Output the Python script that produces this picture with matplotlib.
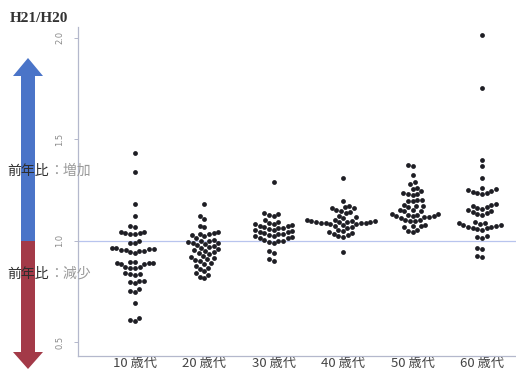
import numpy as np
import matplotlib
matplotlib.use("Agg")
import matplotlib.pyplot as plt
from matplotlib.patches import Polygon

plt.rcParams['font.family'] = ['Noto Sans CJK JP', 'DejaVu Sans']

categories = ["10 歳代", "20 歳代", "30 歳代", "40 歳代", "50 歳代", "60 歳代"]
yticks = [0.5, 1.0, 1.5, 2.0]
ytick_labels = ["0.5", "1.0", "1.5", "2.0"]

g10 = [1.43, 1.34, 1.18, 1.12, 1.07, 1.065, 1.04, 1.035, 1.035, 1.03, 1.04, 1.03,
       1.00, 0.99, 0.99, 0.965, 0.96, 0.955, 0.95, 0.945, 0.94, 0.965, 0.96, 0.955,
       0.95, 0.895, 0.89, 0.89, 0.885, 0.895, 0.89, 0.885, 0.87, 0.865, 0.87, 0.865,
       0.835, 0.83, 0.84, 0.835, 0.80, 0.79, 0.80, 0.795, 0.75, 0.745, 0.76, 0.69,
       0.61, 0.605, 0.62]
g20 = [1.18, 1.12, 1.105, 1.07, 1.065, 1.04, 1.035, 1.03, 1.03, 1.025, 1.02, 1.01,
       1.005, 1.0, 1.0, 0.995, 0.99, 0.99, 0.985, 0.98, 0.975, 0.97, 0.965, 0.96,
       0.955, 0.95, 0.945, 0.94, 0.935, 0.925, 0.92, 0.915, 0.91, 0.905, 0.90, 0.89,
       0.885, 0.875, 0.865, 0.86, 0.85, 0.84, 0.83, 0.82, 0.815]
g30 = [1.29, 1.135, 1.13, 1.125, 1.12, 1.10, 1.09, 1.085, 1.08, 1.08, 1.075, 1.07,
       1.07, 1.065, 1.06, 1.06, 1.055, 1.05, 1.05, 1.045, 1.04, 1.04, 1.035, 1.03,
       1.03, 1.025, 1.02, 1.02, 1.015, 1.01, 1.01, 1.005, 1.0, 1.0, 0.995, 0.99,
       0.95, 0.94, 0.91, 0.90]
g40 = [1.31, 1.195, 1.17, 1.165, 1.16, 1.16, 1.15, 1.145, 1.14, 1.135, 1.12, 1.115,
       1.11, 1.10, 1.10, 1.095, 1.095, 1.095, 1.09, 1.09, 1.09, 1.09, 1.085, 1.085,
       1.085, 1.085, 1.08, 1.08, 1.075, 1.07, 1.065, 1.06, 1.05, 1.045, 1.04, 1.035,
       1.03, 1.025, 1.02, 1.015, 0.945]
g50 = [1.37, 1.365, 1.325, 1.29, 1.28, 1.26, 1.255, 1.245, 1.235, 1.23, 1.23, 1.225,
       1.20, 1.2, 1.195, 1.195, 1.175, 1.17, 1.17, 1.165, 1.15, 1.15, 1.145, 1.145,
       1.13, 1.13, 1.125, 1.125, 1.12, 1.12, 1.12, 1.115, 1.115, 1.11, 1.10, 1.10,
       1.095, 1.095, 1.075, 1.07, 1.07, 1.065, 1.05, 1.045, 1.04]
g60 = [2.015, 1.75, 1.395, 1.365, 1.31, 1.26, 1.255, 1.25, 1.245, 1.24, 1.235, 1.235,
       1.23, 1.18, 1.175, 1.17, 1.165, 1.16, 1.155, 1.15, 1.145, 1.14, 1.135, 1.13,
       1.125, 1.09, 1.087, 1.084, 1.081, 1.078, 1.075, 1.072, 1.069, 1.066, 1.063,
       1.06, 1.057, 1.054, 1.02, 1.015, 1.01, 0.965, 0.96, 0.925, 0.92]
groups = [g10, g20, g30, g40, g50, g60]

W, H = 516, 374
fig = plt.figure(figsize=(W / 100, H / 100), dpi=100)
ax = fig.add_axes([78 / W, (H - 356) / H, (W - 78) / W, (356 - 27) / H])
ax.set_xlim(0.18, 6.49)
ax.set_ylim(0.431, 2.052)

axis_col = "#b4b8cc"
for s in ["top", "right"]:
    ax.spines[s].set_visible(False)
for s in ["left", "bottom"]:
    ax.spines[s].set_color(axis_col)
    ax.spines[s].set_linewidth(0.9)

ax.axhline(1.0, color="#b8c4ee", lw=0.9, zorder=1)

# beeswarm (swarm, ascending priority) computed in pixel space, elliptic spacing
Dh, Dv = 4.8, 6.0
fig.canvas.draw()
tr = ax.transData
inv = tr.inverted()
for i, vals in enumerate(groups):
    xc = i + 1
    vs = np.sort(np.array(vals))
    pix = tr.transform(np.column_stack([np.full(len(vs), xc), vs]))
    cx = pix[0, 0]
    placed = []
    for py in pix[:, 1]:
        cands = [0.0]
        near = [(px, qy) for px, qy in placed if abs(qy - py) < Dv]
        for px, qy in near:
            dx = Dh * np.sqrt(1 - ((qy - py) / Dv) ** 2)
            cands += [px + dx, px - dx]
        best = 0.0
        for c in sorted(cands, key=lambda v: (abs(v), v)):
            ok = all(((c - px) / Dh) ** 2 + ((py - qy) / Dv) ** 2 >= 0.999 for px, qy in near)
            if ok:
                best = c
                break
        placed.append((best, py))
    pts = np.array([[cx + px, qy] for px, qy in placed])
    data = inv.transform(pts)
    ax.scatter(data[:, 0], data[:, 1], s=12, color="#1e1e24", linewidths=0, zorder=3)

ax.set_xticks(range(1, 7))
ax.set_xticklabels(categories, fontsize=9.5, color="#444444")
ax.tick_params(axis="x", length=0, pad=0.5)
ax.set_yticks(yticks)
ax.set_yticklabels(ytick_labels, rotation=90, fontsize=6, color="#8a8a8a", va="center",
                   family=["DejaVu Sans"])
ax.tick_params(axis="y", length=3, width=0.7, color=axis_col, pad=7)

# title
fig.text(10 / W, 1 - 18 / H, "H21/H20", fontsize=11, fontweight="bold",
         family=["Liberation Serif"], color="#333333", va="center", ha="left")

def fx(x):
    return x / W

def fy(y):
    return 1 - y / H

blue = "#4a74c8"
red = "#a33a48"
up = Polygon([(fx(28), fy(58)), (fx(43), fy(76)), (fx(35), fy(76)), (fx(35), fy(241)),
              (fx(21), fy(241)), (fx(21), fy(76)), (fx(13), fy(76))],
             closed=True, transform=fig.transFigure, facecolor=blue, edgecolor="none",
             zorder=0)
down = Polygon([(fx(21), fy(241)), (fx(35), fy(241)), (fx(35), fy(352)), (fx(43), fy(352)),
                (fx(28), fy(369)), (fx(13), fy(352)), (fx(21), fy(352))],
               closed=True, transform=fig.transFigure, facecolor=red, edgecolor="none",
               zorder=0)
fig.add_artist(up)
fig.add_artist(down)

for y, word in [(171, "：増加"), (274, "：減少")]:
    fig.text(fx(7), fy(y), "前年比", fontsize=10, color="#2e2e2e", va="center",
             ha="left", zorder=10)
    fig.text(fx(49), fy(y), word, fontsize=10, color="#9a9a9a", va="center",
             ha="left", zorder=10)

fig.savefig("out.png", dpi=100)
